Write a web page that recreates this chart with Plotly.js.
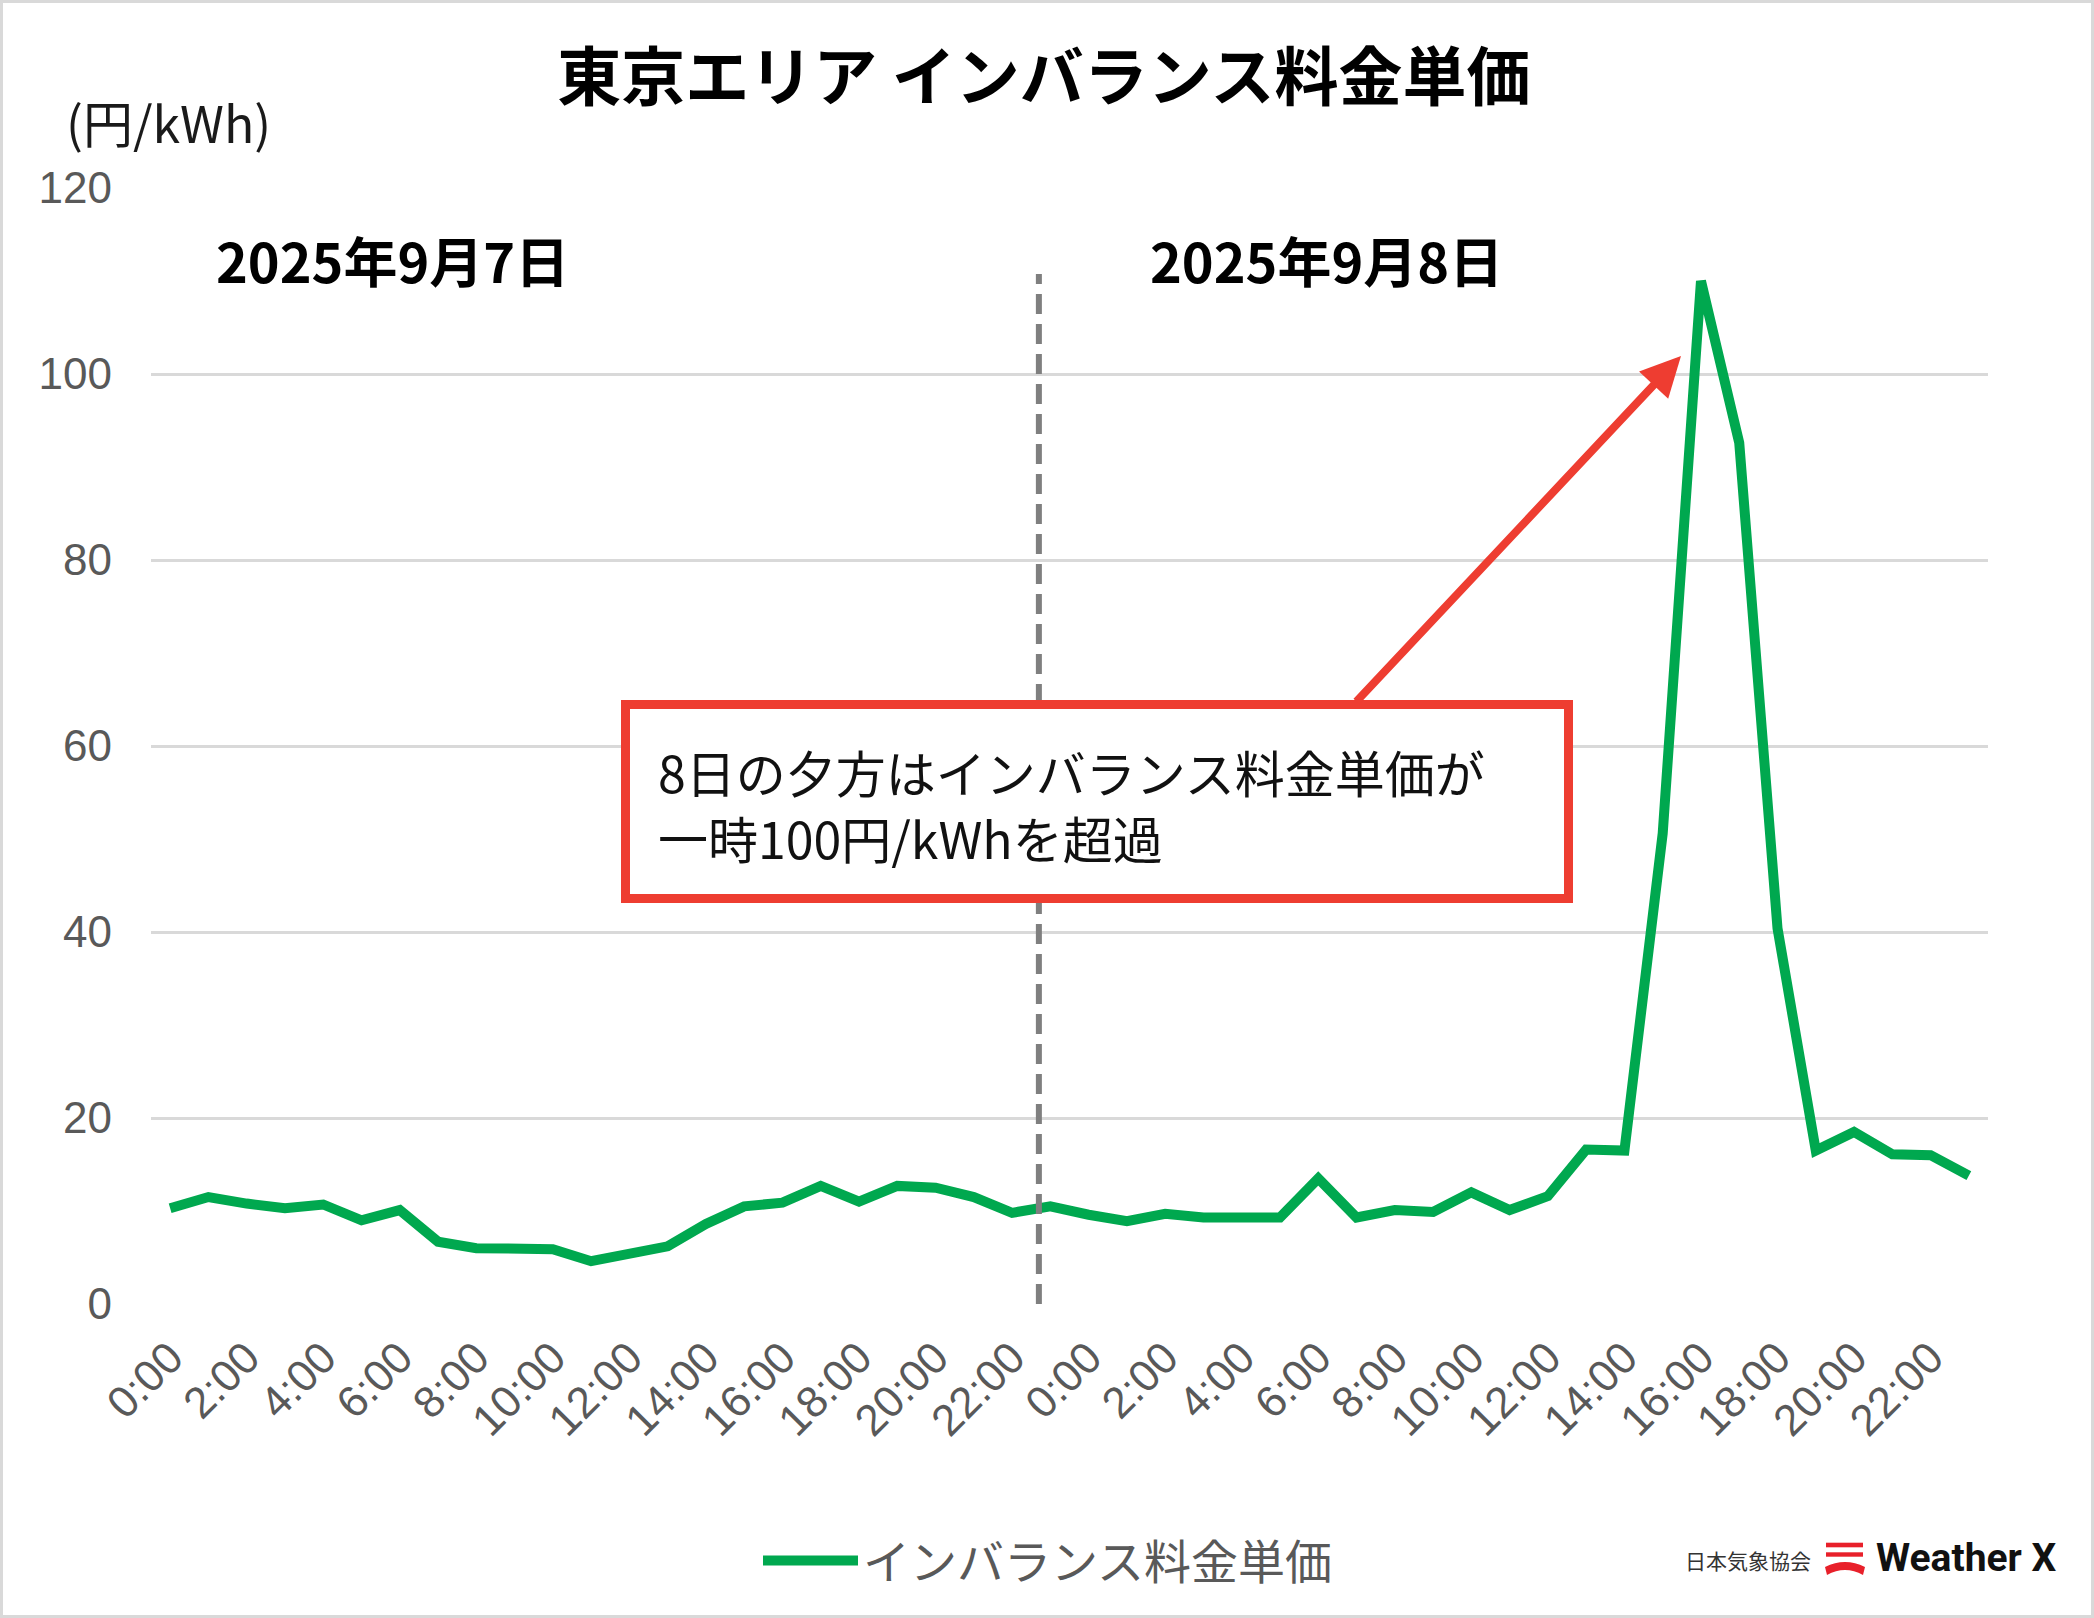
<!DOCTYPE html>
<html>
<head>
<meta charset="utf-8">
<script src="https://cdn.plot.ly/plotly-3.0.1.min.js"></script>
<style>
  html, body { margin: 0; padding: 0; background: #fff; }
  #chart { width: 2094px; height: 1618px; }
</style>
</head>
<body>
<div id="chart"></div>
<script>
// hourly labels for one day, used for both days
var hours = ['0:00', '1:00', '2:00', '3:00', '4:00', '5:00', '6:00', '7:00',
  '8:00', '9:00', '10:00', '11:00', '12:00', '13:00', '14:00', '15:00',
  '16:00', '17:00', '18:00', '19:00', '20:00', '21:00', '22:00', '23:00'];

// 円/kWh, 9/7 0:00 -> 9/8 23:00
var priceDay7 = [10.3, 11.5, 10.8, 10.3, 10.7, 9.0, 10.1, 6.7, 6.0, 5.9, 5.9, 4.6,
  5.5, 6.2, 8.6, 10.5, 10.9, 12.7, 11.0, 12.7, 12.5, 11.5, 9.8, 10.5];
var priceDay8 = [9.6, 8.9, 9.7, 9.3, 9.3, 9.3, 13.5, 9.3, 10.1, 9.9, 12.0, 10.1,
  11.6, 16.6, 16.5, 50.6, 110.0, 92.6, 40.4, 16.5, 18.5, 16.1, 16.0, 13.8];

var yTicks = [0, 20, 40, 60, 80, 100, 120];
var dayLabels = ['2025年9月7日', '2025年9月8日'];
var seriesName = 'インバランス料金単価';
var noteLines = ['8日の夕方はインバランス料金単価が', '一時100円/kWhを超過'];

var labels = hours.concat(hours);
var prices = priceDay7.concat(priceDay8);
var xs = prices.map(function (v, i) { return i; });
var tickVals = xs.filter(function (i) { return i % 2 == 0; });
var tickText = tickVals.map(function (i) { return labels[i]; });

// plot box in page pixels
var W = 2094, H = 1618;
var L = 151, R = 1988, T = 188, B = 1304;
function px(x) { return (x - L) / (R - L); }
function py(y) { return (B - y) / (B - T); }

var jp = '"Noto Sans CJK JP", "Noto Sans", sans-serif';
var num = '"Liberation Sans", Arial, sans-serif';
var red = '#ee3d31';

var logoSvg = '<svg xmlns="http://www.w3.org/2000/svg" viewBox="0 0 40 34">' +
  '<rect x="1" y="0.7" width="37" height="4.6" fill="#e8202a"/>' +
  '<rect x="1" y="10.3" width="37" height="4.4" fill="#e8202a"/>' +
  '<path d="M0,25 Q20,15 40,25 L38,33 Q20,23 2,33 Z" fill="#e8202a"/>' +
  '</svg>';

var data = [{
  x: xs,
  y: prices,
  type: 'scatter',
  mode: 'lines',
  name: seriesName,
  line: {color: '#00a84f', width: 10},
  hoverinfo: 'skip'
}];

var layout = {
  width: W,
  height: H,
  margin: {l: L, r: W - R, t: T, b: H - B},
  paper_bgcolor: '#ffffff',
  plot_bgcolor: '#ffffff',
  showlegend: true,
  title: {
    text: '<b>東京エリア インバランス料金単価</b>',
    font: {family: jp, size: 64, color: '#000000'},
    xref: 'container', x: 0.4985,
    yref: 'container', y: 1 - 78 / H, yanchor: 'middle'
  },
  xaxis: {
    range: [-0.5, 47.5],
    tickvals: tickVals,
    ticktext: tickText,
    tickangle: -45,
    ticks: '',
    ticklabelstandoff: 18,
    tickfont: {family: num, size: 44, color: '#595959'},
    showgrid: false,
    zeroline: false,
    showline: false
  },
  yaxis: {
    range: [0, 120],
    tickvals: yTicks,
    ticks: '',
    ticklabelstandoff: 38,
    tickfont: {family: num, size: 44, color: '#595959'},
    gridcolor: '#d9d9d9',
    gridwidth: 3,
    zeroline: false,
    showline: false
  },
  legend: {
    orientation: 'h',
    x: px(758), xanchor: 'left',
    y: py(1561), yanchor: 'middle',
    itemwidth: 95,
    font: {family: jp, size: 47, color: '#595959'}
  },
  shapes: [
    // day boundary
    {
      type: 'line', xref: 'x', yref: 'paper',
      x0: 22.7, x1: 22.7, y0: 0, y1: py(274),
      line: {color: '#7f7f7f', width: 6, dash: '20px,10px'}
    },
    // call-out box
    {
      type: 'rect', xref: 'paper', yref: 'paper',
      x0: px(625.5), x1: px(1568.5), y0: py(898.5), y1: py(704.5),
      line: {color: red, width: 9},
      fillcolor: '#ffffff'
    },
    // outer frame
    {
      type: 'rect', xref: 'paper', yref: 'paper',
      x0: px(1.5), x1: px(W - 1.5), y0: py(H - 1.5), y1: py(1.5),
      line: {color: '#d9d9d9', width: 3}
    }
  ],
  images: [{
    source: 'data:image/svg+xml;charset=utf-8,' + encodeURIComponent(logoSvg),
    xref: 'paper', yref: 'paper',
    x: px(1825), y: py(1542),
    sizex: 40 / (R - L), sizey: 34 / (B - T),
    xanchor: 'left', yanchor: 'top',
    sizing: 'stretch', layer: 'above'
  }],
  annotations: [
    {
      text: '(円/kWh)', xref: 'paper', yref: 'paper',
      x: px(64), y: py(121), xanchor: 'left', yanchor: 'middle',
      showarrow: false,
      font: {family: jp, size: 50, color: '#1a1a1a'}
    },
    {
      text: '<b>' + dayLabels[0] + '</b>', xref: 'paper', yref: 'paper',
      x: px(392), y: py(259), xanchor: 'center', yanchor: 'middle',
      showarrow: false,
      font: {family: jp, size: 54, color: '#000000'}
    },
    {
      text: '<b>' + dayLabels[1] + '</b>', xref: 'paper', yref: 'paper',
      x: px(1326), y: py(259), xanchor: 'center', yanchor: 'middle',
      showarrow: false,
      font: {family: jp, size: 54, color: '#000000'}
    },
    {
      text: noteLines[0], xref: 'paper', yref: 'paper',
      x: px(656), y: py(771), xanchor: 'left', yanchor: 'middle',
      showarrow: false,
      font: {family: jp, size: 50, color: '#111111'}
    },
    {
      text: noteLines[1], xref: 'paper', yref: 'paper',
      x: px(656), y: py(837), xanchor: 'left', yanchor: 'middle',
      showarrow: false,
      font: {family: jp, size: 50, color: '#111111'}
    },
    // red arrow toward the peak
    {
      text: '', xref: 'paper', yref: 'paper',
      x: px(1681), y: py(356),
      ax: 1355 - 1681, ay: 703 - 356,
      showarrow: true, arrowhead: 2, arrowsize: 1, arrowwidth: 8,
      arrowcolor: red, standoff: 0
    },
    {
      text: '日本気象協会', xref: 'paper', yref: 'paper',
      x: px(1683), y: py(1560), xanchor: 'left', yanchor: 'middle',
      showarrow: false,
      font: {family: jp, size: 21, color: '#333333'}
    },
    {
      text: '<b>Weather X</b>', xref: 'paper', yref: 'paper',
      x: px(1874), y: py(1558), xanchor: 'left', yanchor: 'middle',
      showarrow: false,
      font: {family: 'Roboto, sans-serif', size: 39, color: '#111111'}
    }
  ]
};

Plotly.newPlot('chart', data, layout, {displayModeBar: false, responsive: false});
</script>
</body>
</html>
